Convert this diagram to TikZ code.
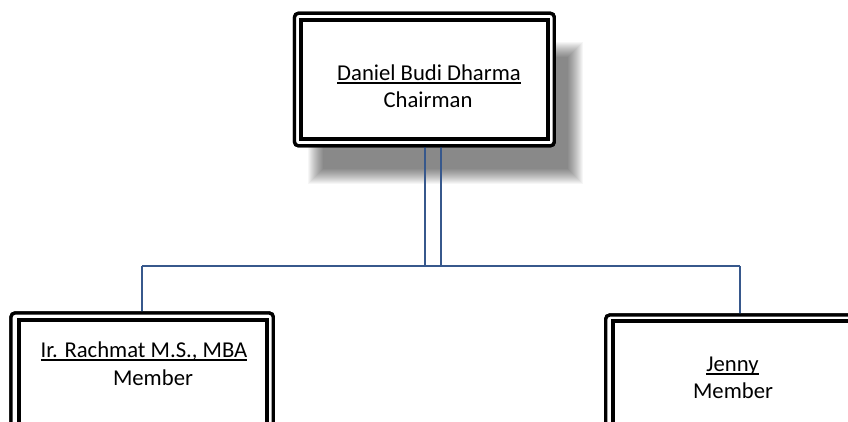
\documentclass[tikz,border=0pt]{standalone}
\usepackage{fontspec}
\setmainfont{Carlito}
\usetikzlibrary{calc}
\definecolor{connblue}{RGB}{55,88,140}
\newcommand{\ulname}[1]{\setbox0\hbox{#1}\rlap{\rule[-2.7pt]{\wd0}{1.1pt}}\box0}
\begin{document}
\begin{tikzpicture}[x=0.75pt,y=-0.75pt,
  outerbox/.style={draw=black,fill=white,line width=2.5pt,rounded corners=3pt,inner sep=0pt,outer sep=0pt},
  innerline/.style={draw=black,line width=3pt},
  connector/.style={draw=connblue,line width=1.5pt},
  label/.style={font=\fontsize{17pt}{20pt}\selectfont,anchor=base,inner sep=0pt}]
\useasboundingbox (0,0) rectangle (848,421);
\clip (0,0) rectangle (848,421);
\fill[white] (0,0) rectangle (848,421);
% shadow of the top box
\foreach \i in {0,...,15}{
  \fill[black,opacity=0.034] (308+\i,42+\i) rectangle (583-\i,184-\i);
}
% named points of the connectors
\coordinate (jl) at (142,266);
\coordinate (jr) at (740,266);
\coordinate (d1) at (425,266);
\coordinate (d2) at (441,266);
% boxes
\node[outerbox,minimum width=194.85pt,minimum height=99.4pt] (chair) at (424.4,79.55) {};
\node[outerbox,minimum width=196.7pt,minimum height=95.25pt] (left) at (142.15,376.5) {};
\node[outerbox,minimum width=198.2pt,minimum height=93.75pt] (right) at (737.85,377.5) {};
% connectors
\draw[connector] (d1 |- chair.south) -- (d1);
\draw[connector] (d2 |- chair.south) -- (d2);
\draw[connector] (jl) -- (jr);
\draw[connector] (jl) -- (jl |- left.north);
\draw[connector] (jr) -- (jr |- right.north);
% redraw boxes on top of connector ends
\node[outerbox,minimum width=194.85pt,minimum height=99.4pt] at (chair) {};
\node[outerbox,minimum width=196.7pt,minimum height=95.25pt] at (left) {};
\node[outerbox,minimum width=198.2pt,minimum height=93.75pt] at (right) {};
\draw[innerline] ($(chair.north west)+(6.8,7)$) rectangle ($(chair.south east)+(-6.8,-7.1)$);
\draw[innerline] ($(left.north west)+(7.7,7.3)$) rectangle ($(left.north east)+(-6.3,140)$);
\draw[innerline] ($(right.north west)+(7.3,6.3)$) rectangle ($(right.north east)+(-7,140)$);
% texts
\node[label] (chairname) at (429,80) {\ulname{Daniel Budi Dharma}};
\node[label] (chairrole) at (428,107) {Chairman};
\node[label] (leftname) at (144,357) {\ulname{Ir. Rachmat M.S., MBA}};
\node[label] (leftrole) at (153,385) {Member};
\node[label] (rightname) at (732.5,371) {\ulname{Jenny}};
\node[label] (rightrole) at (733,398) {Member};
\end{tikzpicture}
\end{document}
